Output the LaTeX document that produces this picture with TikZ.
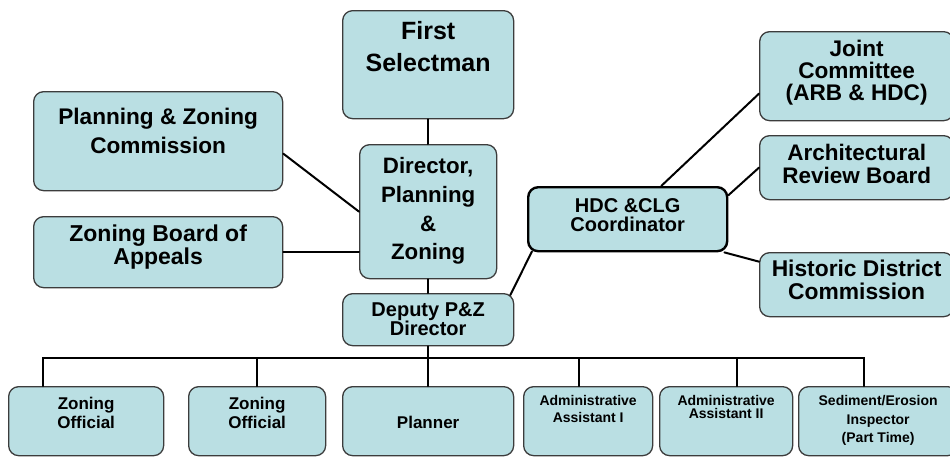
\documentclass[tikz,border=0pt]{standalone}
\usepackage{fontspec}
\setmainfont{Liberation Sans}
\usetikzlibrary{positioning}
\definecolor{boxfill}{RGB}{186,223,227}
\definecolor{boxline}{RGB}{60,60,60}
\newcommand{\fsz}[2]{\fontsize{#1}{#2}\selectfont\bfseries}
\tikzset{
  box/.style={draw=boxline,fill=boxfill,line width=1.3pt,rounded corners=10pt,
    inner sep=0pt,align=center,anchor=north west},
  hub/.style={box,draw=black,line width=2.4pt},
  link/.style={line width=2pt,line cap=round}
}

\begin{document}
\begin{tikzpicture}[x=1pt,y=-1pt]
  \clip (0,0) rectangle (950,456);
  % top of the chart
  \node[box,minimum width=171pt,minimum height=108pt,text height=61pt,text depth=47pt,
    font=\fsz{25}{32}] (fs) at (342,10) {First\\Selectman};
  \node[box,minimum width=137pt,minimum height=134pt,text height=115.3pt,text depth=18.7pt,
    font=\fsz{22.3}{28.7}] (dir) at (359,144) {Director,\\Planning\\\&\\Zoning};
  \node[box,minimum width=171pt,minimum height=52pt,text height=42pt,text depth=10pt,
    font=\fsz{20}{19}] (dep) at (342,293) {Deputy P\&Z\\Director};
  % boards on the left
  \node[box,minimum width=249pt,minimum height=99pt,text height=61.7pt,text depth=37.3pt,
    font=\fsz{22.6}{28.7}] (pzc) at (33,91) {Planning \& Zoning\\Commission};
  \node[box,minimum width=249pt,minimum height=71pt,text height=48pt,text depth=23pt,
    font=\fsz{23}{23.5}] (zba) at (33,216) {Zoning Board of\\Appeals};
  % historic district side
  \node[hub,minimum width=199pt,minimum height=64pt,text height=44.7pt,text depth=19.3pt,
    font=\fsz{20}{19}] (hdcc) at (527,186) {HDC \&CLG\\Coordinator};
  \node[box,minimum width=194pt,minimum height=89pt,text height=69pt,text depth=20pt,
    font=\fsz{22.6}{22}] (jc) at (759,31) {Joint\\Committee\\(ARB \& HDC)};
  \node[box,minimum width=194pt,minimum height=64pt,text height=48.3pt,text depth=15.7pt,
    font=\fsz{22.5}{23.3}] (arb) at (759,135) {Architectural\\Review Board};
  \node[box,minimum width=194pt,minimum height=64pt,text height=47pt,text depth=17pt,
    font=\fsz{22.8}{23.3}] (hdc) at (759,252) {Historic District\\Commission};
  % staff row
  \node[box,minimum width=155pt,minimum height=69pt,text height=41.7pt,text depth=27.3pt,
    font=\fsz{17}{19.3}] (zo1) at (8,386) {Zoning\\Official};
  \node[box,minimum width=137pt,minimum height=69pt,text height=41.7pt,text depth=27.3pt,
    font=\fsz{17}{19.3}] (zo2) at (188,386) {Zoning\\Official};
  \node[box,minimum width=171pt,minimum height=69pt,text height=41.7pt,text depth=27.3pt,
    font=\fsz{17}{19.3}] (pl) at (342,386) {Planner};
  \node[box,minimum width=129pt,minimum height=69pt,text height=35.7pt,text depth=33.3pt,
    font=\fsz{14}{16.7}] (aa1) at (523,386) {Administrative\\Assistant I};
  \node[box,minimum width=133pt,minimum height=69pt,text height=32.3pt,text depth=36.7pt,
    font=\fsz{14}{13.3}] (aa2) at (659,386) {Administrative\\Assistant II};
  \node[box,minimum width=159pt,minimum height=69pt,text height=56.3pt,text depth=12.7pt,
    font=\fsz{14}{18.7}] (sei) at (798,386) {Sediment/Erosion\\Inspector\\(Part Time)};

  \coordinate (bus) at (0,358);
  \draw[link] (fs.south) -- (dir.north);
  \draw[link] ([yshift=-12.5pt]pzc.east) -- (dir.west);
  \draw[link] (zba.east) -- (zba.east -| dir.west);
  \draw[link] (dir.south) -- (dep.north);
  \draw[link] ([xshift=-4pt,yshift=-2pt]dep.north east) -- ([xshift=5pt,yshift=1pt]hdcc.south west);
  \draw[link] ([xshift=33.5pt]hdcc.north) -- ([yshift=-17.5pt]jc.west);
  \draw[link] ([yshift=24pt]hdcc.east) -- (arb.west);
  \draw[link] ([xshift=-4pt]hdcc.south east) -- ([yshift=23pt]hdc.west);
  % staff bus
  \draw[link] (dep.south) -- (pl.north);
  \draw[link] ([xshift=-43.5pt]zo1.north) |- ([xshift=-14.5pt]sei.north |- bus)
    -- ([xshift=-14.5pt]sei.north);
  \foreach \n/\dx in {zo2/0,aa1/-9.5,aa2/10.5}
    \draw[link] ([xshift=\dx pt]\n.north) -- ([xshift=\dx pt]\n.north |- bus);
\end{tikzpicture}
\end{document}
